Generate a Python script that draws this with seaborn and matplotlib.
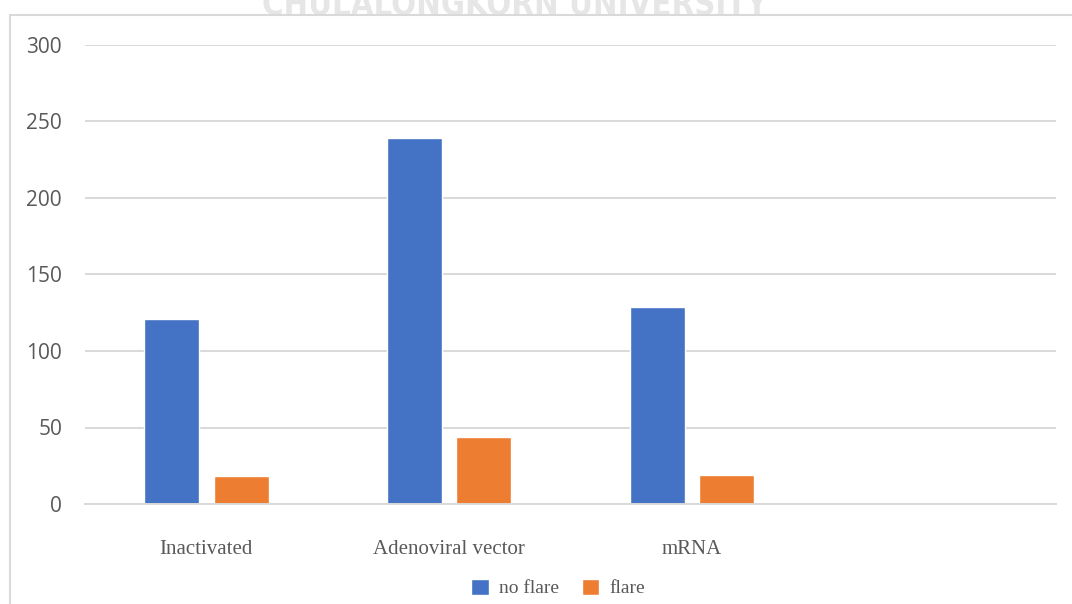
import matplotlib
matplotlib.use("Agg")
import matplotlib.pyplot as plt
import seaborn as sns
import pandas as pd
from matplotlib.patches import Rectangle, Patch

categories = ["Inactivated", "Adenoviral vector", "mRNA"]
series_names = ["no flare", "flare"]
no_flare = [121, 239, 129]
flare = [18, 44, 19]
y_ticks = [0, 50, 100, 150, 200, 250, 300]

df = pd.DataFrame({
    "category": categories * 2,
    "series": [series_names[0]] * 3 + [series_names[1]] * 3,
    "value": no_flare + flare,
})

sns.set_theme(style="white")
fig = plt.figure(figsize=(10.72, 6.04), dpi=100)
ax = fig.add_axes([85/1072, 100/604, (1056-85)/1072, (504-45)/604])

sns.barplot(data=df, x="category", y="value", hue="series", order=categories,
            hue_order=series_names, palette=["#4472C4", "#ED7D31"],
            width=0.572, gap=0.21, ax=ax, legend=False, saturation=1)

ax.set_xlim(-0.5, 3.5)
ax.set_ylim(0, 300)
ax.set_yticks(y_ticks)
ax.set_yticklabels([str(v) for v in y_ticks], fontsize=15, color="#595959",
                   family="Open Sans")
ax.set_xticks(range(len(categories)))
ax.set_xticklabels(categories, fontsize=15, color="#595959",
                   family="Liberation Serif")
ax.tick_params(axis="x", length=0, pad=26)
ax.tick_params(axis="y", length=0, pad=16.5)
ax.set_xlabel("")
ax.set_ylabel("")
ax.grid(axis="y", color="#d9d9d9", linewidth=1.4)
ax.set_axisbelow(True)
for s in ["top", "right", "left"]:
    ax.spines[s].set_visible(False)
ax.spines["bottom"].set_color("#d9d9d9")
ax.spines["bottom"].set_linewidth(1.4)

# legend
handles = [Patch(facecolor="#4472C4"), Patch(facecolor="#ED7D31")]
leg = fig.legend(handles, series_names, loc="center", bbox_to_anchor=(558/1072, 1 - 588/604),
                 ncol=2, frameon=False, handlelength=0.9, handleheight=0.9,
                 handletextpad=0.5, columnspacing=1.2,
                 prop={"family": "Liberation Serif", "size": 14})
for t in leg.get_texts():
    t.set_color("#595959")

# chart frame
fig.patches.append(Rectangle((10/1072, -0.05), 1.2, 1 - 15/604 + 0.05,
                             transform=fig.transFigure, fill=False,
                             edgecolor="#d9d9d9", linewidth=1.5, zorder=5))

# watermark (cropped at top, as in the reference)
fig.text(515/1072, 1 - 15/604, "CHULALONGKORN UNIVERSITY", ha="center",
         va="baseline", fontsize=23.5, fontweight="bold", fontstretch="condensed",
         color="#e6e6e6", family="DejaVu Sans")

fig.savefig("out.png", dpi=100)
